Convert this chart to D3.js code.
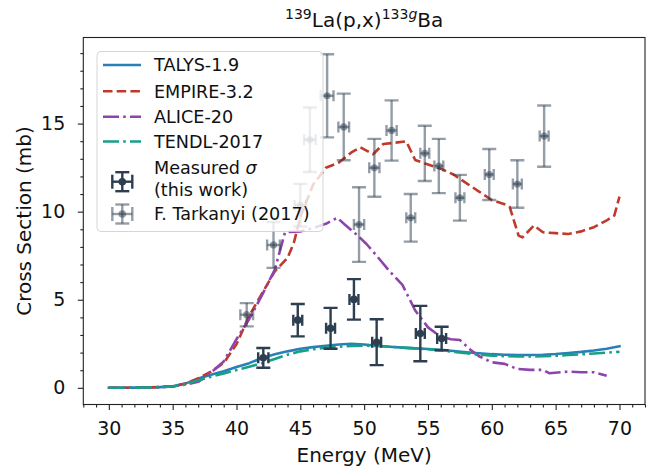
<!DOCTYPE html>
<html><head><meta charset="utf-8">
<script src="https://cdn.jsdelivr.net/npm/d3@7"></script>
<style>
body{margin:0;background:#fff}
svg{display:block;font-family:"DejaVu Sans",sans-serif}
</style>
</head><body>
<svg id="chart" width="663" height="474"></svg>
<script>
// ---- data ----
const talysE = [30,31,32,33,34,35,36,37,38,39,40,41,42,43,44,45,46,47,48,49,50,51,52,53,54,55,56,57,58,59,60,61,62,63,64,65,66,67,68,69,70];
const talysV = [0,0,0.01,0.02,0.04,0.08,0.24,0.53,0.74,0.94,1.18,1.4,1.69,1.9,2.07,2.22,2.31,2.39,2.46,2.5,2.46,2.39,2.33,2.28,2.24,2.2,2.16,2.09,2.02,1.96,1.91,1.88,1.86,1.86,1.88,1.92,1.98,2.04,2.12,2.22,2.36];
const tendlE = [30,31,32,33,34,35,36,37,38,39,40,41,42,43,44,45,46,47,48,49,50,51,52,53,54,55,56,57,58,59,60,61,62,63,64,65,66,67,68,69,70];
const tendlV = [0,0,0.01,0.02,0.04,0.08,0.21,0.43,0.63,0.82,1.01,1.2,1.4,1.64,1.88,2.07,2.19,2.28,2.33,2.38,2.39,2.37,2.33,2.28,2.24,2.19,2.12,2.04,1.96,1.89,1.83,1.8,1.78,1.78,1.79,1.82,1.86,1.9,1.95,2.0,2.04];
const empireE = [30,31,32,33,34,35,36,37,38,39,40,41,42,43,44,44.5,45,46,47,48,49,49.7,50.7,51.5,53.3,54,55,56,57,58,59,60,61,61.4,62.1,62.4,63.3,64,65,66,67,68,69,69.6,70];
const empireV = [0,0,0,0.02,0.05,0.1,0.24,0.53,0.92,1.41,2.47,4.1,5.36,6.61,7.38,8.25,9.7,11.53,12.49,12.78,13.36,13.65,13.26,13.84,13.99,12.93,12.68,12.44,12.11,11.62,11.14,10.66,10.42,10.27,8.64,8.54,9.21,8.83,8.78,8.73,8.88,9.12,9.5,9.79,10.85];
const aliceE = [30,31,32,33,34,35,36,37,38,39,40,41,42,43,43.8,45,46,47,47.9,48.5,49.5,50.2,51,52,53,54,55,56,56.8,57.5,58.3,59,60,61,62,63,64,64.5,66,67,68,69];
const aliceV = [0,0,0.01,0.02,0.04,0.08,0.19,0.34,0.87,1.5,2.76,3.91,5.26,6.71,8.83,8.88,9.07,9.31,9.65,9.26,8.64,8.15,7.48,6.61,5.84,4.39,3.43,2.9,2.76,2.71,2.18,1.79,1.45,1.36,1.07,1.02,1.02,0.83,0.92,0.88,0.88,0.68];

const measE = [42.1,44.8,47.37,49.2,50.98,54.4,56.07];
const measV = [1.70,3.84,3.38,5.02,2.59,3.08,2.80];
const measErr = [0.56,0.92,1.16,1.15,1.30,1.57,0.67];
const measXerr = [0.4,0.35,0.35,0.35,0.35,0.35,0.35];

const tarkE = [40.8,42.9,45.0,45.75,47.1,48.4,49.6,50.8,52.15,53.65,54.75,55.85,57.5,59.8,62.0,64.1];
const tarkV = [4.15,8.11,10.37,14.08,16.58,14.81,9.27,12.49,14.61,9.65,13.31,12.59,10.79,12.11,11.57,14.29];
const tarkErr = [0.66,1.30,1.21,1.83,2.36,1.89,2.12,1.64,1.71,1.35,1.57,1.54,1.30,1.45,1.35,1.74];
const tarkXerr = [0.5,0.5,0.45,0.45,0.5,0.42,0.4,0.4,0.4,0.35,0.35,0.35,0.35,0.35,0.35,0.35];

const xMajor = [30,35,40,45,50,55,60,65,70];
const yMajor = [0,5,10,15];
const legendLabels = ["TALYS-1.9","EMPIRE-3.2","ALICE-20","TENDL-2017"];

// ---- layout ----
const svg = d3.select("#chart");
const L = 83.3, R = 645, T = 37.5, B = 404.5;
const C = {talys:"#2980b9", empire:"#c0392b", alice:"#8e44ad", tendl:"#16a085", meas:"#2c3e50"};

const ymaxData = d3.max(tarkV.map((v,i)=>v+tarkErr[i]));
const yPad = ymaxData*0.05;
const x = d3.scaleLinear().domain([28,72]).range([L,R]);
const y = d3.scaleLinear().domain([-yPad, ymaxData+yPad]).range([B,T]);

const clipId="plotclip";
svg.append("defs").append("clipPath").attr("id",clipId).append("rect")
  .attr("x",L).attr("y",T).attr("width",R-L).attr("height",B-T);

const plot = svg.append("g").attr("clip-path",`url(#${clipId})`);
const line = d3.line().x(d=>x(d[0])).y(d=>y(d[1]));
const lw = 2.6;
function series(E,V,color,dash){
  plot.append("path").datum(E.map((e,i)=>[e,V[i]]))
    .attr("d",line).attr("fill","none").attr("stroke",color)
    .attr("stroke-width",lw).attr("stroke-dasharray",dash||null)
    .attr("stroke-linejoin","round").attr("stroke-linecap",dash?"butt":"square");
}
const dashD = "9.5,4.2", dashDD = "16,4.2,2.6,4.2";
series(talysE,talysV,C.talys,null);
series(empireE,empireV,C.empire,dashD);
series(aliceE,aliceV,C.alice,dashDD);
series(tendlE,tendlV,C.tendl,dashDD);

function errbars(g,E,V,Ey,Ex,color,op,r){
  const cap=7, xcap=5.5;
  E.forEach((e,i)=>{
    const cx=x(e), cy=y(V[i]);
    const y0=y(V[i]-Ey[i]), y1=y(V[i]+Ey[i]);
    const x0=x(e-Ex[i]), x1=x(e+Ex[i]);
    const st = {stroke:color,"stroke-width":2.4,"stroke-opacity":op};
    const seg=(a,b,c,d)=>{const l=g.append("line").attr("x1",a).attr("y1",b).attr("x2",c).attr("y2",d);for(const k in st)l.attr(k,st[k]);};
    seg(cx,y0,cx,y1);
    seg(x0,cy,x1,cy);
    seg(cx-cap,y0,cx+cap,y0); seg(cx-cap,y1,cx+cap,y1);
    seg(x0,cy-xcap,x0,cy+xcap); seg(x1,cy-xcap,x1,cy+xcap);
    g.append("circle").attr("cx",cx).attr("cy",cy).attr("r",r).attr("fill",color).attr("fill-opacity",op);
  });
}
errbars(plot.append("g"),measE,measV,measErr,measXerr,C.meas,1,3.8);
errbars(plot.append("g"),tarkE,tarkV,tarkErr,tarkXerr,C.meas,0.5,3.6);

// ---- axes ----
const tickFont = 19;
const xMinor = d3.range(28,73,1).filter(v=>!xMajor.includes(v));
const yMinor = d3.range(0,21,1).filter(v=>!yMajor.includes(v) && y(v)>=T-0.5);
const xAxis = d3.axisBottom(x).tickValues(xMajor).tickSize(5.5).tickPadding(11.5).tickFormat(d3.format("d"));
const xAxisMinor = d3.axisBottom(x).tickValues(xMinor).tickSize(3).tickFormat("");
const yAxis = d3.axisLeft(y).tickValues(yMajor).tickSize(5.5).tickPadding(12.5).tickFormat(d3.format("d"));
const yAxisMinor = d3.axisLeft(y).tickValues(yMinor).tickSize(3).tickFormat("");

function styleAxis(g){
  g.select(".domain").remove();
  g.selectAll("line").attr("stroke","#222").attr("stroke-width",1.1);
  g.selectAll("text").attr("fill","#111").style("font-size",tickFont+"px").style("font-family","DejaVu Sans");
}
svg.append("g").attr("transform",`translate(0,${B})`).call(xAxis).call(styleAxis);
svg.append("g").attr("transform",`translate(0,${B})`).call(xAxisMinor).call(styleAxis);
svg.append("g").attr("transform",`translate(${L},0)`).call(yAxis).call(styleAxis);
svg.append("g").attr("transform",`translate(${L},0)`).call(yAxisMinor).call(styleAxis);

svg.append("rect").attr("x",L).attr("y",T).attr("width",R-L).attr("height",B-T)
  .attr("fill","none").attr("stroke","#222").attr("stroke-width",1.1);

// axis labels
svg.append("text").attr("x",(L+R)/2).attr("y",462).attr("text-anchor","middle")
  .style("font-size","20px").attr("fill","#111").text("Energy (MeV)");
svg.append("text").attr("transform",`translate(30.5,${(T+B)/2}) rotate(-90)`).attr("text-anchor","middle")
  .style("font-size","20px").attr("fill","#111").text("Cross Section (mb)");

// title
const title = svg.append("text").attr("x",(L+R)/2).attr("y",27).attr("text-anchor","middle")
  .style("font-size","20px").attr("fill","#111");
title.append("tspan").text("139").style("font-size","14px").attr("dy","-8");
title.append("tspan").text("La(p,x)").attr("dy","8");
title.append("tspan").text("133").style("font-size","14px").attr("dy","-8");
title.append("tspan").text("g").style("font-size","14px").style("font-style","italic");
title.append("tspan").text("Ba").attr("dy","8");

// ---- legend ----
const lg = svg.append("g");
lg.append("rect").attr("x",97).attr("y",51.5).attr("width",226).attr("height",180).attr("rx",4)
  .attr("fill","#fff").attr("fill-opacity",0.8).attr("stroke","#cccccc").attr("stroke-opacity",0.8).attr("stroke-width",1);
const lgFont = 17.6;
const rowsY = [65,91.2,116.8,141.5];
const lineStyles = [[C.talys,null],[C.empire,dashD],[C.alice,dashDD],[C.tendl,dashDD]];
legendLabels.forEach((lab,i)=>{
  lg.append("line").attr("x1",103).attr("x2",141).attr("y1",rowsY[i]).attr("y2",rowsY[i])
    .attr("stroke",lineStyles[i][0]).attr("stroke-width",lw).attr("stroke-dasharray",lineStyles[i][1]);
  lg.append("text").attr("x",154).attr("y",rowsY[i]+6.4).style("font-size",lgFont+"px").attr("fill","#111").text(lab);
});
function legendErr(cx,cy,op){
  const st={stroke:C.meas,"stroke-width":2.4,"stroke-opacity":op};
  const seg=(a,b,c,d)=>{const l=lg.append("line").attr("x1",a).attr("y1",b).attr("x2",c).attr("y2",d);for(const k in st)l.attr(k,st[k]);};
  seg(cx,cy-9.5,cx,cy+9.5); seg(cx-10,cy,cx+10,cy);
  seg(cx-7,cy-9.5,cx+7,cy-9.5); seg(cx-7,cy+9.5,cx+7,cy+9.5);
  seg(cx-10,cy-7,cx-10,cy+7); seg(cx+10,cy-7,cx+10,cy+7);
  lg.append("circle").attr("cx",cx).attr("cy",cy).attr("r",3.8).attr("fill",C.meas).attr("fill-opacity",op);
}
legendErr(122.3,181.7,1);
legendErr(122.3,214,0.5);
const mt = lg.append("text").attr("x",154).attr("y",173.7).style("font-size",lgFont+"px").attr("fill","#111");
mt.append("tspan").text("Measured ");
mt.append("tspan").text("σ").style("font-style","italic");
lg.append("text").attr("x",154).attr("y",195.6).style("font-size",lgFont+"px").attr("fill","#111").text("(this work)");
lg.append("text").attr("x",154).attr("y",220.4).style("font-size",lgFont+"px").attr("fill","#111").text("F. Tarkanyi (2017)");
</script>
</body></html>
